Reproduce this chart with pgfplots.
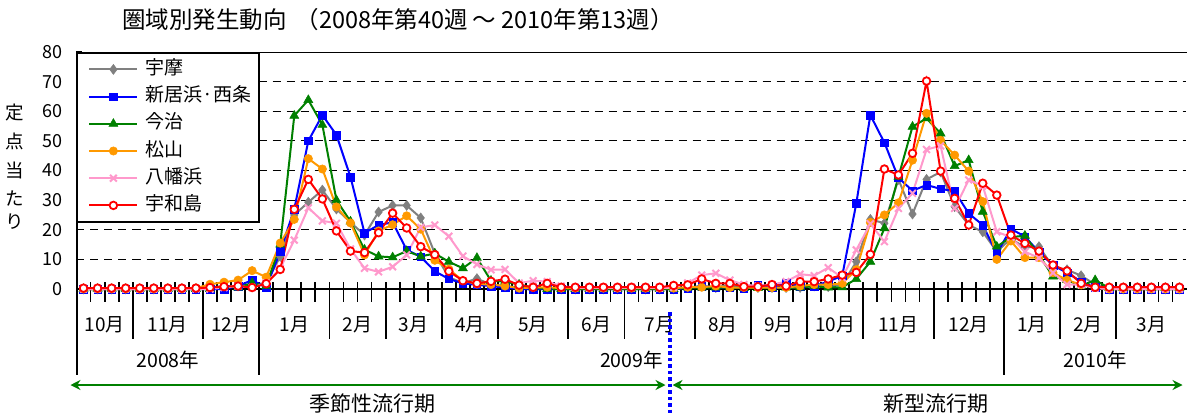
\documentclass[border=0pt]{standalone}
\usepackage{pgfplots}
\pgfplotsset{compat=1.18}
\usepackage{pgfplotstable}
\usepackage{fontspec}
\setmainfont{Noto Sans CJK JP}
\usetikzlibrary{arrows.meta}
\definecolor{cgray}{RGB}{128,128,128}
\definecolor{cblue}{RGB}{0,0,255}
\definecolor{cgreen}{RGB}{0,128,0}
\definecolor{corange}{RGB}{255,153,0}
\definecolor{cpink}{RGB}{255,153,204}
\definecolor{cred}{RGB}{255,0,0}
\newcommand{\fs}[1]{\fontsize{#1}{#1}\selectfont}
\pgfplotstableread{
x gray blue green orange pink red
0 0 0 0 0 0 0.3
1 0 0 0 0 0 0.3
2 0 0 0 0 0 0.3
3 0 0 0 0 0 0.3
4 0 0 0 0 0 0.3
5 0 0 0 0 0 0.3
6 0 0 0 0 0 0.3
7 0 0 0 0 0 0.3
8 0 0 0 0.3 0 0.3
9 0.5 0 0 1.6 0 0.5
10 1 0 1 2.3 0.5 0.8
11 1 1 0.5 3 1 1
12 1.5 3 2 6.2 0.5 0.5
13 2 0.5 1 4 2 1.8
14 11 12.7 15 15.5 7 6.6
15 25 27 58.5 23.5 16.5 26.9
16 29.3 50 63.8 44 27.4 37
17 33.4 58.7 55.4 40.5 23 30.4
18 27 52 30 27.7 22.2 19.6
19 22.5 37.8 22.8 22.3 13.5 12.8
20 18.2 18.9 13.3 11.5 7 12.3
21 26 21.6 11 19.6 5.8 19
22 28.2 22.5 10.7 21.7 7.5 25.6
23 28.2 13.2 12.8 24.7 11.5 20.6
24 24 10.9 11 20.2 20.8 14.3
25 12 6 12 9.7 21.6 11.6
26 4 3.4 9.2 6.7 17.8 6
27 2 1.9 7 2.8 11.1 2.8
28 3.5 1.4 10.5 1.7 8.3 1.9
29 1.5 1 2.8 1.5 6.5 2.6
30 1 0.5 2.5 1 6.6 3.3
31 0.5 0 1.5 0.3 2 1.3
32 0 0 0.5 0.5 2.8 0.6
33 0 0 0 0.6 2.5 1.9
34 0 0 0 0.3 1 0.6
35 0 0 0 0.3 0.5 0.6
36 0 0 0 0.3 0.3 0.6
37 0 0 0 0.3 0.5 0.6
38 0 0 0 0.3 0.3 0.6
39 0 0 0 0.3 0.5 0.6
40 0 0 0 0.3 0.5 0.6
41 0 0 0 0.3 0.3 0.6
42 0 0 0 0.3 0.5 1.2
43 0.5 0.3 0.5 0.6 2 1.4
44 1 1 0.5 0.6 4.7 3.4
45 0.5 0.5 0.5 1 5.3 1.9
46 1.5 0.5 0.5 0.5 3 1.9
47 0.5 0.3 0.3 0.5 1.5 0.8
48 0.5 1.5 0.3 0.5 1 0.8
49 0.5 0.5 0.3 0.5 1.5 1.5
50 0.5 2 0.5 0.5 2.5 1
51 0.5 1 0.5 1 5 2.5
52 1 1 1 1.5 4.5 2.5
53 0.8 2.5 0.5 1.5 7.2 3.4
54 1.5 4.5 0.6 1.9 3.8 4.7
55 9.2 28.9 3.4 6.5 13.2 5.6
56 23.5 58.7 9.2 22.5 22 11.7
57 22.2 49.4 20.5 25 16 40.5
58 37 37.5 37.9 29.1 27.2 38.5
59 25.3 33.2 54.8 43.5 32.3 45.8
60 37 35.1 57.6 59.3 47.1 70.2
61 39.5 33.8 52.5 50.2 48.3 39.8
62 27.8 33 41.5 45.2 27.2 30.6
63 21.6 25.5 43.5 39.8 36.8 21.6
64 19.3 21.6 26.1 29.5 34.8 35.7
65 12.6 12 14.3 10 19.3 31.7
66 17 20.3 17.5 16.2 17.5 18.2
67 14 17.7 18 10.6 12.6 15.4
68 14.3 12.5 11.5 10.6 10.5 12.8
69 7.5 8 4.2 5.5 5.5 8.1
70 6.5 5.5 3 3 1.5 6.1
71 4.5 2.5 1 1.4 1.4 1.9
72 1.5 0.5 3 0.5 0.3 0.6
73 0 0 0.3 0 0 0.6
74 0 0 0.3 0 0 0.6
75 0 0 0.3 0 0 0.6
76 0 0 0.3 0 0 0.6
77 0 0 0.3 0 0 0.6
78 0 0 0.3 0 0 0.6
}\datatable
\def\w{14.0506}
\begin{document}
\begin{tikzpicture}
\useasboundingbox (-76.5pt,-127pt) rectangle (1113.5pt,289pt);
% decorations below the plot
\draw[line width=1pt] (0pt,237pt) -- (1110pt,237pt);
\draw[line width=2pt] (0pt,237pt) -- (0pt,-86pt);
\draw[line width=2.5pt] (0pt,0pt) -- (1110pt,0pt);
\foreach \k in {1,...,78} \draw[line width=1.8pt] ({\k*\w*1pt},7pt) -- ({\k*\w*1pt},-13pt);
\foreach \k in {4,9,18,22,26,30,35,39,44,48,52,56,61,70,74} \draw[line width=1.8pt] ({\k*\w*1pt},0pt) -- ({\k*\w*1pt},-50pt);
\foreach \k in {13,66} \draw[line width=1.8pt] ({\k*\w*1pt},0pt) -- ({\k*\w*1pt},-86pt);
\foreach \c/\t in {2/10月,6.5/11月,11/12月,15.5/1月,20/2月,24/3月,28/4月,32.5/5月,37/6月,41.5/7月,46/8月,50/9月,54/10月,58.5/11月,63.5/12月,68/1月,72/2月,76.5/3月}
  \node[font=\fs{19}] at ({\c*\w*1pt},-36pt) {\t};
\foreach \c/\t in {6.5/2008年,39.5/2009年,72.5/2010年}
  \node[font=\fs{19.5}] at ({\c*\w*1pt},-71pt) {\t};
\draw[cgreen, line width=2pt, {Stealth[length=10pt,width=10pt]}-{Stealth[length=10pt,width=10pt]}] (-6pt,-96pt) -- (589pt,-96pt);
\draw[cgreen, line width=2pt, {Stealth[length=10pt,width=10pt]}-{Stealth[length=10pt,width=10pt]}] (596pt,-96pt) -- (1106pt,-96pt);
\node[font=\fs{21}] at (296pt,-115pt) {季節性流行期};
\node[font=\fs{21}] at (859pt,-115pt) {新型流行期};
\draw[cblue, line width=3.5pt, dash pattern=on 3.5pt off 3pt] (593.5pt,-23pt) -- (593.5pt,-127pt);
\node[anchor=west, inner sep=0pt, font=\fs{23.5}] at (45.5pt,269pt) {圏域別発生動向\hspace{9pt}（2008年第40週\hspace{5pt}～\hspace{5pt}2010年第13週）};
\node[font=\fs{18.5}] at (-61.5pt,176pt) {定};
\node[font=\fs{18.5}] at (-61.5pt,148pt) {点};
\node[font=\fs{18.5}] at (-61.5pt,119pt) {当};
\node[font=\fs{18.5}] at (-61.5pt,91pt) {た};
\node[font=\fs{18.5}] at (-61.5pt,67pt) {り};
\begin{axis}[
  at={(0pt,0pt)}, anchor=south west,
  scale only axis, width=1110pt, height=237pt,
  xmin=-0.5, xmax=78.5, ymin=0, ymax=80,
  clip=false,
  axis line style={draw=none},
  xtick=\empty,
  ytick={0,10,...,80},
  ytick pos=left,
  tick align=inside,
  major tick length=6pt,
  ytick style={black, line width=1.2pt},
  yticklabel style={font=\fs{18}, xshift=-10pt},
  /pgf/number format/assume math mode=true,
  ymajorgrids,
  major grid style={black, line width=0.9pt, dash pattern=on 8pt off 6pt},
  legend cell align=left,
  legend image code/.code={\path (0pt,0pt); \draw[mark repeat=2,mark phase=2,#1] plot coordinates {(3pt,0pt) (27pt,0pt) (51pt,0pt)};},
  legend style={at={(0,1)}, anchor=north west, draw=black, line width=1.8pt, fill=white,
    inner xsep=8pt, inner ysep=7.5pt, row sep=9.2pt, font=\fs{19},
    nodes={inner sep=0pt, text height=14pt, text depth=4pt},
    /tikz/every odd column/.append style={column sep=7pt}},
]
\addplot[cgray, line width=2pt, mark=diamond*, mark size=5pt, mark options={fill=cgray, draw=cgray, line width=0.5pt}] table[x=x,y=gray]{\datatable};
\addlegendentry{宇摩}
\addplot[cblue, line width=2pt, mark=square*, mark size=3.8pt, mark options={fill=cblue, draw=cblue, line width=0.5pt}] table[x=x,y=blue]{\datatable};
\addlegendentry{新居浜·西条}
\addplot[cgreen, line width=2pt, mark=triangle*, mark size=5.2pt, mark options={fill=cgreen, draw=cgreen, line width=0.5pt}] table[x=x,y=green]{\datatable};
\addlegendentry{今治}
\addplot[corange, line width=2pt, mark=*, mark size=4.2pt, mark options={fill=corange, draw=corange, line width=0.5pt}] table[x=x,y=orange]{\datatable};
\addlegendentry{松山}
\addplot[cpink, line width=2pt, mark=x, mark size=4.8pt, mark options={draw=cpink, line width=2pt}] table[x=x,y=pink]{\datatable};
\addlegendentry{八幡浜}
\addplot[cred, line width=2pt, mark=*, mark size=3.8pt, mark options={fill=white, draw=cred, line width=1.8pt}] table[x=x,y=red]{\datatable};
\addlegendentry{宇和島}
\end{axis}
\end{tikzpicture}
\end{document}
